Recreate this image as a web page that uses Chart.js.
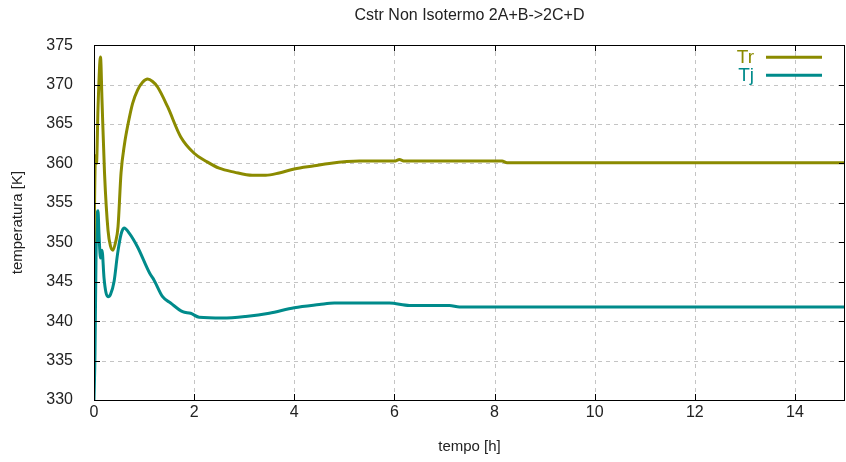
<!DOCTYPE html>
<html>
<head>
<meta charset="utf-8">
<script src="https://cdn.jsdelivr.net/npm/chart.js@4"></script>
<style>
  html, body { margin: 0; padding: 0; background: #fff; }
  #wrap { width: 846px; height: 462px; }
</style>
</head>
<body>
<div id="wrap"><canvas id="cstr-chart" width="846" height="462"></canvas></div>
<script>
// temperatura reattore (Tr) e camicia (Tj) nel tempo
const trTime = [0, 0.03, 0.05, 0.08, 0.13, 0.16, 0.21, 0.28, 0.33, 0.38, 0.43, 0.48, 0.54, 0.61, 0.68, 0.77, 0.87, 0.97, 1.07, 1.17, 1.27, 1.47, 1.73, 2.0, 2.26, 2.5, 2.8, 3.16, 3.43, 3.7, 4.0, 4.4, 4.7, 5.3, 6.0, 6.1, 6.2, 7.0, 8.15, 8.25, 10, 12, 15];
const trTemp = [350, 361, 360, 367, 373.5, 368, 358.8, 351.5, 349.5, 349, 350, 352, 358.8, 362.5, 365, 367.6, 369.3, 370.3, 370.7, 370.4, 369.7, 367.2, 363.4, 361.3, 360.2, 359.4, 358.9, 358.5, 358.5, 358.8, 359.3, 359.7, 360.0, 360.3, 360.3, 360.5, 360.3, 360.3, 360.3, 360.1, 360.1, 360.1, 360.1];

const tjTime = [0, 0.02, 0.04, 0.06, 0.08, 0.1, 0.13, 0.16, 0.2, 0.24, 0.28, 0.33, 0.4, 0.47, 0.54, 0.6, 0.71, 0.87, 1.11, 1.2, 1.37, 1.53, 1.77, 1.93, 2.1, 2.57, 3.03, 3.5, 4.0, 4.5, 4.8, 5.9, 6.3, 7.1, 7.3, 10, 15];
const tjTemp = [330, 336, 348, 353, 354, 351, 348, 349, 345.5, 343.6, 343.1, 343.4, 345, 348.5, 351, 351.8, 351.1, 349.4, 346.1, 345.2, 343.1, 342.3, 341.2, 341.0, 340.5, 340.4, 340.6, 341.0, 341.7, 342.1, 342.3, 342.3, 342.0, 342.0, 341.8, 341.8, 341.8];

const xTicks = [0, 2, 4, 6, 8, 10, 12, 14];
const yTicks = [330, 335, 340, 345, 350, 355, 360, 365, 370, 375];

const FONT = '"Liberation Sans Narrow", "Liberation Sans", Arial, sans-serif';
const TEXT = '#222';

const toPoints = (xs, ys) => xs.map((x, i) => ({ x: x, y: ys[i] }));

// griglia tratteggiata sotto le curve
const dashedGrid = {
    id: 'dashedGrid',
    beforeDatasetsDraw(chart) {
        const { ctx, chartArea: a, scales } = chart;
        ctx.save();
        ctx.strokeStyle = '#c4c4c4';
        ctx.lineWidth = 1;
        ctx.setLineDash([4, 4]);
        ctx.beginPath();
        scales.x.ticks.forEach(t => {
            const px = Math.round(scales.x.getPixelForValue(t.value)) + 0.5;
            if (px <= a.left + 1 || px >= a.right - 1) return;
            ctx.moveTo(px, a.bottom); ctx.lineTo(px, a.top);
        });
        scales.y.ticks.forEach(t => {
            const py = Math.round(scales.y.getPixelForValue(t.value)) + 0.5;
            if (py <= a.top + 1 || py >= a.bottom - 1) return;
            ctx.moveTo(a.left, py); ctx.lineTo(a.right, py);
        });
        ctx.stroke();
        ctx.restore();
    }
};

// bordo nero, tacche interne e legenda stile gnuplot
const gnuplotFrame = {
    id: 'gnuplotFrame',
    afterDatasetsDraw(chart) {
        const { ctx, chartArea: a, scales } = chart;
        ctx.save();
        ctx.strokeStyle = '#000';
        ctx.lineWidth = 1;
        const tl = 6;
        ctx.beginPath();
        scales.x.ticks.forEach(t => {
            const px = Math.round(scales.x.getPixelForValue(t.value)) + 0.5;
            ctx.moveTo(px, a.bottom); ctx.lineTo(px, a.bottom - tl);
            ctx.moveTo(px, a.top); ctx.lineTo(px, a.top + tl);
        });
        scales.y.ticks.forEach(t => {
            const py = Math.round(scales.y.getPixelForValue(t.value)) + 0.5;
            ctx.moveTo(a.left, py); ctx.lineTo(a.left + tl, py);
            ctx.moveTo(a.right, py); ctx.lineTo(a.right - tl, py);
        });
        ctx.stroke();
        ctx.strokeRect(Math.round(a.left) + 0.5, Math.round(a.top) + 0.5,
            Math.round(a.right - a.left) - 1, Math.round(a.bottom - a.top));

        // legenda
        ctx.font = '19px ' + FONT;
        ctx.textAlign = 'right';
        ctx.textBaseline = 'middle';
        chart.data.datasets.forEach((ds, i) => {
            const y = a.top + 12 + i * 18;
            ctx.fillStyle = ds.borderColor;
            ctx.fillText(ds.label, a.right - 91, y + 1);
            ctx.strokeStyle = ds.borderColor;
            ctx.lineWidth = 3;
            ctx.beginPath();
            ctx.moveTo(a.right - 79, y);
            ctx.lineTo(a.right - 23, y);
            ctx.stroke();
        });
        ctx.restore();
    }
};

const ctx = document.getElementById('cstr-chart').getContext('2d');
new Chart(ctx, {
    type: 'line',
    data: {
        datasets: [
            {
                label: 'Tr',
                data: toPoints(trTime, trTemp),
                borderColor: '#8b8b00',
                borderWidth: 3,
                pointRadius: 0,
                cubicInterpolationMode: 'monotone',
                fill: false
            },
            {
                label: 'Tj',
                data: toPoints(tjTime, tjTemp),
                borderColor: '#008b8b',
                borderWidth: 3,
                pointRadius: 0,
                cubicInterpolationMode: 'monotone',
                fill: false
            }
        ]
    },
    options: {
        responsive: false,
        animation: false,
        layout: { padding: { left: 0, right: 1, top: 0, bottom: 0 } },
        plugins: {
            legend: { display: false },
            tooltip: { enabled: false },
            title: {
                display: true,
                fullSize: false,
                text: 'Cstr Non Isotermo 2A+B->2C+D',
                color: TEXT,
                font: { family: FONT, size: 16, weight: 'normal' },
                padding: { top: 6, bottom: 20 }
            }
        },
        scales: {
            x: {
                type: 'linear',
                min: 0,
                max: 15,
                afterBuildTicks: s => { s.ticks = xTicks.map(v => ({ value: v })); },
                afterFit: s => { s.height = 62; },
                grid: { display: false },
                border: { display: false },
                ticks: {
                    color: TEXT,
                    padding: -5,
                    maxRotation: 0,
                    font: { family: FONT, size: 16 }
                },
                title: {
                    display: true,
                    text: 'tempo [h]',
                    color: TEXT,
                    font: { family: FONT, size: 15 },
                    padding: { top: 0, bottom: 6 }
                }
            },
            y: {
                min: 330,
                max: 375,
                afterBuildTicks: s => { s.ticks = yTicks.map(v => ({ value: v })); },
                afterFit: s => { s.width = 94; },
                grid: { display: false },
                border: { display: false },
                ticks: {
                    color: TEXT,
                    padding: 13,
                    font: { family: FONT, size: 16 }
                },
                title: {
                    display: true,
                    text: 'temperatura [K]',
                    color: TEXT,
                    font: { family: FONT, size: 15 },
                    padding: { top: 9, bottom: 0 }
                }
            }
        }
    },
    plugins: [dashedGrid, gnuplotFrame]
});
</script>
</body>
</html>
